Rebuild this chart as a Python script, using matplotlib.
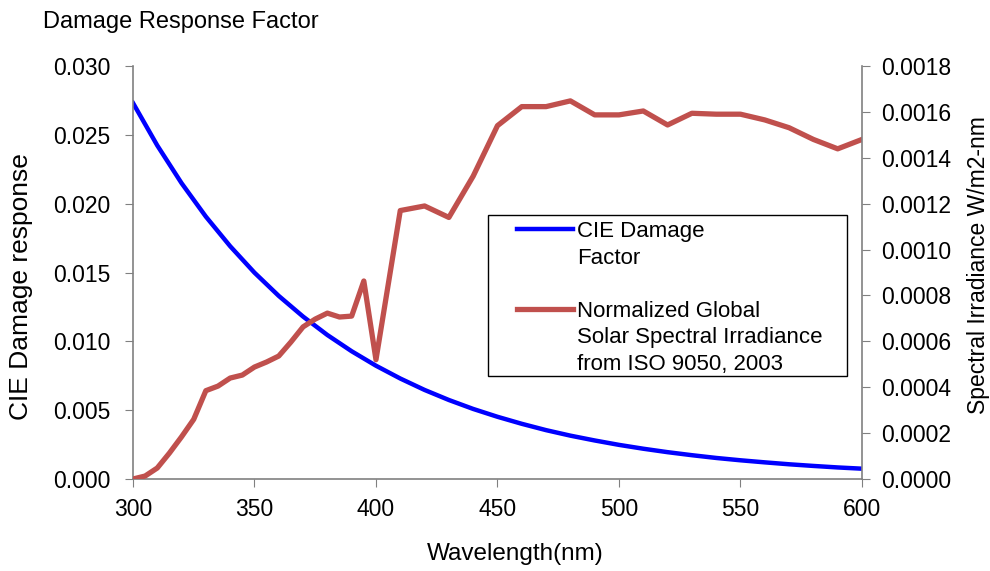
import matplotlib.pyplot as plt
from matplotlib.lines import Line2D
from matplotlib.patches import Rectangle
from matplotlib.ticker import FormatStrFormatter

plt.rcParams['font.family'] = ['Liberation Sans', 'DejaVu Sans']

# CIE damage factor, 10 nm steps
wl_cie = [300, 310, 320, 330, 340, 350, 360, 370, 380, 390, 400,
          410, 420, 430, 440, 450, 460, 470, 480, 490, 500,
          510, 520, 530, 540, 550, 560, 570, 580, 590, 600]
cie = [0.02732, 0.02423, 0.02149, 0.01906, 0.01691, 0.01499, 0.01330, 0.01180,
       0.01046, 0.00928, 0.00823, 0.00730, 0.00647, 0.00574, 0.00509, 0.00452,
       0.00401, 0.00355, 0.00315, 0.00280, 0.00248, 0.00220, 0.00195, 0.00173,
       0.00153, 0.00136, 0.00121, 0.00107, 0.00095, 0.00084, 0.00075]

# normalized global solar spectral irradiance (ISO 9050)
wl_sun = [300, 305, 310, 315, 320, 325, 330, 335, 340, 345, 350, 355, 360,
          365, 370, 375, 380, 385, 390, 395, 400,
          410, 420, 430, 440, 450, 460, 470, 480, 490, 500,
          510, 520, 530, 540, 550, 560, 570, 580, 590, 600]
sun = [0.0, 0.000013, 0.000048, 0.000113, 0.000184, 0.00026, 0.000385, 0.000405,
       0.00044, 0.000453, 0.000488, 0.00051, 0.000536, 0.000597, 0.000663,
       0.000697, 0.000723, 0.000706, 0.00071, 0.000863, 0.00052,
       0.00117, 0.00119, 0.00114, 0.00132, 0.00154, 0.001623, 0.001623,
       0.001648, 0.001587, 0.001587, 0.001604, 0.001543, 0.001594, 0.00159,
       0.00159, 0.001565, 0.001531, 0.00148, 0.001439, 0.00148]

fig = plt.figure(figsize=(9.9, 5.71), dpi=100)
ax = fig.add_axes([0.1343, 0.1611, 0.7364, 0.7233])
ax2 = ax.twinx()

l1, = ax.plot(wl_cie, cie, color='#0000FF', lw=3.2)
l2, = ax2.plot(wl_sun, sun, color='#C0504D', lw=3.8)

ax.set_xlim(300, 600)
ax.set_ylim(0, 0.030)
ax2.set_ylim(0, 0.0018)
ax.set_xticks([300, 350, 400, 450, 500, 550, 600])
ax.set_yticks([0, 0.005, 0.010, 0.015, 0.020, 0.025, 0.030])
ax2.set_yticks([0, 0.0002, 0.0004, 0.0006, 0.0008, 0.0010, 0.0012, 0.0014, 0.0016, 0.0018])
ax.yaxis.set_major_formatter(FormatStrFormatter('%.3f'))
ax2.yaxis.set_major_formatter(FormatStrFormatter('%.4f'))

for a in (ax, ax2):
    a.spines['top'].set_visible(False)
    for s in ('left', 'right', 'bottom'):
        a.spines[s].set_color('#808080')
        a.spines[s].set_linewidth(1.2)
    a.tick_params(labelsize=16.5, length=6, color='#808080', pad=10)
ax.tick_params(axis='x', pad=8)
ax2.tick_params(pad=8)
ax.spines['right'].set_visible(False)
ax2.spines['left'].set_visible(False)
ax2.spines['bottom'].set_visible(False)

ax.set_xlabel('Wavelength(nm)', fontsize=17.5)
ax.xaxis.set_label_coords(0.524, -0.155)
ax.set_ylabel('CIE Damage response', fontsize=19)
ax.yaxis.set_label_coords(-0.137, 0.467)
ax2.set_ylabel('Spectral Irradiance W/m2-nm', fontsize=16.5)
ax2.yaxis.set_label_coords(1.144, 0.518)

fig.text(0.043, 0.962, 'Damage Response Factor', fontsize=17, va='center', ha='left')

# legend: handle sits on the first line of each label, like the original
blank = Line2D([], [], linestyle='none')
handles = [l1, blank, blank, l2, blank, blank]
labels = ['CIE Damage', 'Factor', ' ', 'Normalized Global',
          'Solar Spectral Irradiance', 'from ISO 9050, 2003']
leg = ax2.legend(handles, labels, loc='upper left', fontsize=16,
                 bbox_to_anchor=(517 / 990, 1 - 221 / 571), bbox_transform=fig.transFigure,
                 frameon=False, borderaxespad=0, borderpad=0,
                 handlelength=2.5, handletextpad=0.2, labelspacing=0.25)
leg.set_zorder(6)
ax2.add_patch(Rectangle((488 / 990, 1 - 376 / 571), 359 / 990, 161 / 571,
                        transform=fig.transFigure, facecolor='white',
                        edgecolor='black', lw=1.0, clip_on=False, zorder=5))

fig.savefig('out.png', dpi=100)
